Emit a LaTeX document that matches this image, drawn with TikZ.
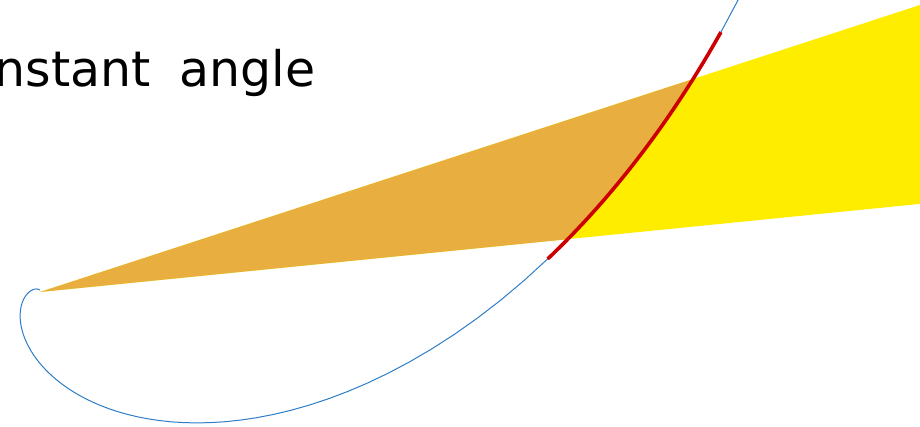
\documentclass[tikz,border=0pt]{standalone}
\usepackage{fontspec}
\newfontfamily\plotfont{DejaVu Sans}
\definecolor{blue}{RGB}{45,125,200}
\definecolor{red}{RGB}{204,0,0}
\definecolor{orange}{RGB}{232,175,64}
\definecolor{yellow}{RGB}{255,237,0}
\usepackage{tikz}

\begin{document}
\begin{tikzpicture}[x=1pt, y=-1pt,
    declare function={spr(\t)=470.6*exp(1.2*\t);}]
    \useasboundingbox (0,0) rectangle (920,427);
    \clip (0,0) rectangle (920,427);

    %% Pole of the spiral = apex of the wedge
    \coordinate (O) at (40,292);

    %% Wedge between the two rays (yellow part outside the spiral)
    \fill[yellow] (O) -- (1000,195.9) -- (1000,-21.1) -- cycle;

    %% Part of the wedge inside the spiral (orange)
    \fill[orange] (O) -- plot[domain=0.0997:0.3152, samples=30]
        ({40+spr(\x)*cos(\x r)}, {292-spr(\x)*sin(\x r)}) -- cycle;

    %% Logarithmic spiral (blue)
    \draw[blue, line width=1pt] plot[domain=-4.6:0.45, samples=120]
        ({40+spr(\x)*cos(\x r)}, {292-spr(\x)*sin(\x r)});

    %% Arc cut out by the wedge (red)
    \draw[red, line width=3.6pt] plot[domain=0.065:0.365, samples=30]
        ({40+spr(\x)*cos(\x r)}, {292-spr(\x)*sin(\x r)});

    %% Title
    \node[anchor=base east, inner sep=0] (title) at (315.6,87)
        {\fontsize{49}{58}\selectfont\plotfont constant\hspace{0.584em}angle};

\end{tikzpicture}
\end{document}
